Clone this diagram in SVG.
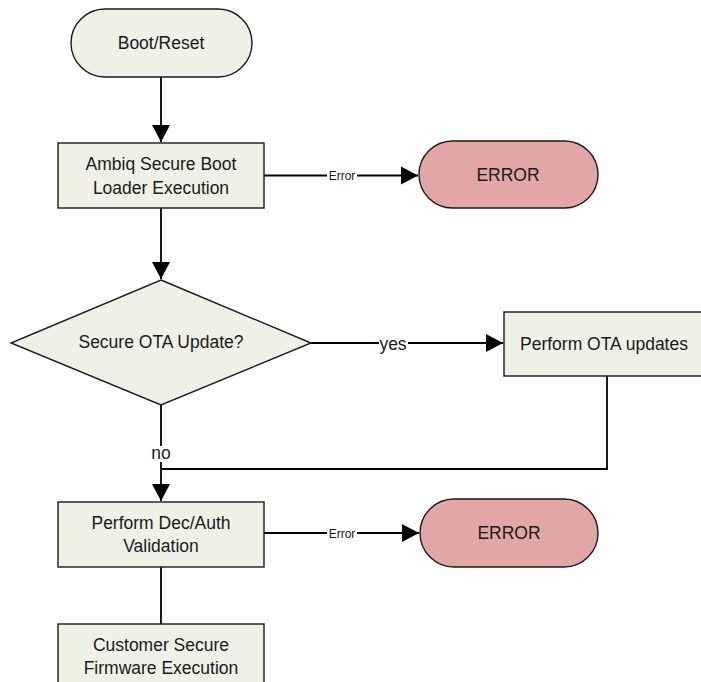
<svg xmlns="http://www.w3.org/2000/svg" width="701" height="682" viewBox="0 0 701 682">
<style>
.node{fill:#EFF1E6;stroke:#1a1a1a;stroke-width:1.4}
.err{fill:#E3A6A6;stroke:#1a1a1a;stroke-width:1.4}
.t{font-family:"Liberation Sans",Arial,sans-serif;font-size:17.5px;fill:#1a1a1a;text-anchor:middle}
.s{font-family:"Liberation Sans",Arial,sans-serif;font-size:12px;fill:#1a1a1a;text-anchor:middle}
.c{fill:none;stroke:#000;stroke-width:1.8}
.bg{fill:#fff}
</style>
<defs>
<marker id="arr" markerUnits="userSpaceOnUse" markerWidth="18" markerHeight="20" refX="17" refY="10" orient="auto">
<path d="M0,1 L17,10 L0,19 Z" fill="#000"/>
</marker>
</defs>
<rect width="701" height="682" fill="#fff"/>
<g id="connectors">
<path class="c" d="M161,77 V142" marker-end="url(#arr)"/>
<path class="c" d="M264,175.5 H418" marker-end="url(#arr)"/>
<path class="c" d="M161,208 V279" marker-end="url(#arr)"/>
<path class="c" d="M311,343 H503" marker-end="url(#arr)"/>
<path class="c" d="M161,405 V501" marker-end="url(#arr)"/>
<path class="c" d="M607,376 V469 H161"/>
<path class="c" d="M264,533 H419" marker-end="url(#arr)"/>
<path class="c" d="M161,567 V624"/>
<rect class="bg" x="327" y="168" width="30" height="14"/>
<text class="s" x="342" y="180">Error</text>
<rect class="bg" x="379" y="336" width="29" height="16"/>
<text class="t" x="393" y="350">yes</text>
<rect class="bg" x="150" y="446" width="22" height="16"/>
<text class="t" x="161" y="459">no</text>
<rect class="bg" x="327" y="526" width="30" height="14"/>
<text class="s" x="342" y="538">Error</text>
</g>
<g id="boot">
<rect class="node" x="71" y="9" width="181" height="68" rx="34" ry="34"/>
<text class="t" x="161" y="49">Boot/Reset</text>
</g>
<g id="sbl">
<rect class="node" x="58" y="143" width="206" height="65"/>
<text class="t" x="161" y="170">Ambiq Secure Boot</text>
<text class="t" x="161" y="194">Loader Execution</text>
</g>
<g id="error1">
<rect class="err" x="419" y="141" width="179" height="67" rx="33.5" ry="33.5"/>
<text class="t" x="508" y="181">ERROR</text>
</g>
<g id="decision">
<polygon class="node" points="161,280 311,343 161,405 11,343"/>
<text class="t" x="161" y="348">Secure OTA Update?</text>
</g>
<g id="ota">
<rect class="node" x="504" y="312" width="200" height="64"/>
<text class="t" x="604" y="350">Perform OTA updates</text>
</g>
<g id="decauth">
<rect class="node" x="58" y="502" width="206" height="65"/>
<text class="t" x="161" y="529">Perform Dec/Auth</text>
<text class="t" x="161" y="552">Validation</text>
</g>
<g id="error2">
<rect class="err" x="420" y="499" width="178" height="68" rx="34" ry="34"/>
<text class="t" x="509" y="539">ERROR</text>
</g>
<g id="customer">
<rect class="node" x="58" y="624" width="206" height="70"/>
<text class="t" x="161" y="651">Customer Secure</text>
<text class="t" x="161" y="674">Firmware Execution</text>
</g>
</svg>
